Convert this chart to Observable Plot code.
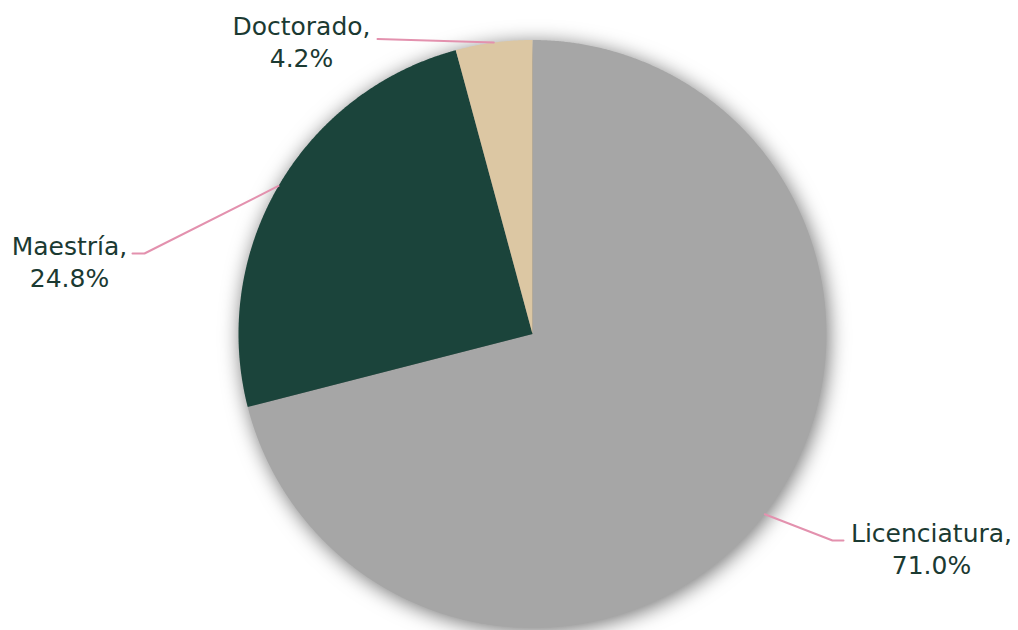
<!DOCTYPE html>
<html><head><meta charset="utf-8">
<script src="https://cdn.jsdelivr.net/npm/d3@7"></script>
<script src="https://cdn.jsdelivr.net/npm/@observablehq/plot@0.6"></script>
<style>body{margin:0;background:#fff;overflow:hidden}</style>
</head><body><div id="chart"></div>
<script>
// Data
const categories = ["Licenciatura", "Maestría", "Doctorado"];
const shares = [71.0, 24.8, 4.2];
const colors = ["#a6a6a6", "#1b443b", "#dcc7a3"];

// Layout (pixels relative to pie centre; y up)
const W = 1018, H = 630, CX = 532, CY = 333.5, R = 294;
const labelLayout = {
  "Licenciatura": {elbow: [300, -206.5], end: [311, -206.5], text: [399, -214]},
  "Maestría": {elbow: [-388, 80.5], end: [-400, 80.5], text: [-463, 73.5]},
  "Doctorado": {elbow: [-155, 295], end: [-155, 295], text: [-231, 293]}
};

const pie = d3.pie().sort(null).value(d => d.share);
const rows = categories.map((name, i) => ({name, share: shares[i]}));
const arcs = pie(rows);

// slice polygons (angle measured clockwise from 12 o'clock)
const slicePts = [];
for (const a of arcs) {
  const n = Math.max(2, Math.ceil((a.endAngle - a.startAngle) / (Math.PI / 720)));
  slicePts.push({name: a.data.name, x: 0, y: 0});
  for (let k = 0; k <= n; k++) {
    const t = a.startAngle + (a.endAngle - a.startAngle) * k / n;
    slicePts.push({name: a.data.name, x: R * Math.sin(t), y: R * Math.cos(t)});
  }
  slicePts.push({name: a.data.name, x: 0, y: 0});
}

const leaderPts = [];
const labels = [];
for (const a of arcs) {
  const m = (a.startAngle + a.endAngle) / 2;
  const L = labelLayout[a.data.name];
  leaderPts.push({name: a.data.name, x: R * Math.sin(m), y: R * Math.cos(m)});
  leaderPts.push({name: a.data.name, x: L.elbow[0], y: L.elbow[1]});
  leaderPts.push({name: a.data.name, x: L.end[0], y: L.end[1]});
  labels.push({x: L.text[0], y: L.text[1], label: `${a.data.name},\n${a.data.share.toFixed(1)}%`});
}

const plot = Plot.plot({
  width: W, height: H,
  margin: 0,
  x: {domain: [-CX, W - CX], range: [0, W], axis: null},
  y: {domain: [CY - H, CY], range: [H, 0], axis: null},
  color: {domain: categories, range: colors},
  style: {fontFamily: "'DejaVu Sans', sans-serif", background: "#fff"},
  marks: [
    Plot.line(slicePts, {x: "x", y: "y", z: "name", fill: "name", stroke: "none", curve: "linear"}),
    Plot.line(leaderPts, {x: "x", y: "y", z: "name", stroke: "#e391ae", strokeWidth: 2, curve: "linear"}),
    Plot.text(labels, {x: "x", y: "y", text: "label", fontSize: 25, lineHeight: 1.28, fill: "#1b3a32", textAnchor: "middle"})
  ]
});
document.getElementById("chart").appendChild(plot);
const pieG = plot.querySelectorAll('g[aria-label="line"]')[0];
if (pieG) pieG.style.filter = "drop-shadow(2px 3px 10px rgba(0,0,0,0.55))";
</script>
</body></html>
